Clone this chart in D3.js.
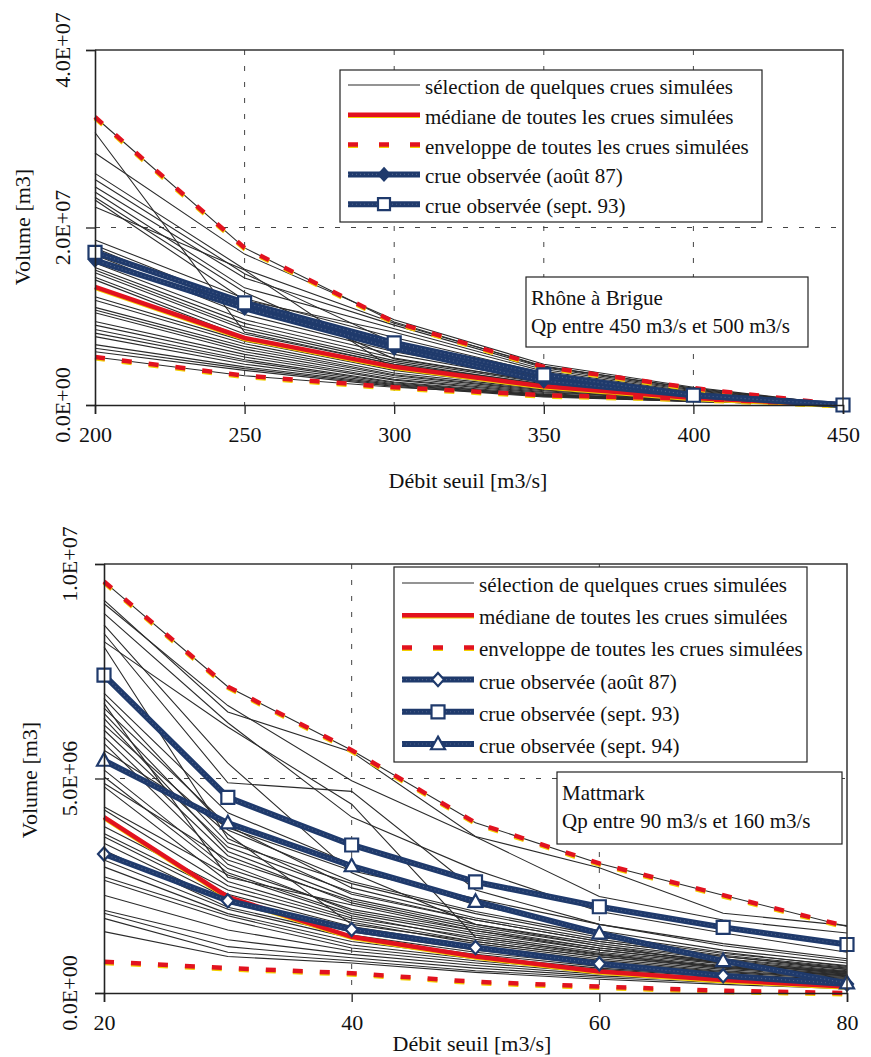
<!DOCTYPE html>
<html>
<head>
<meta charset="utf-8">
<script src="https://cdn.jsdelivr.net/npm/d3@7"></script>
<style>
  body { margin: 0; background: #fff; }
  svg text { font-family: "Liberation Serif", "Times New Roman", Times, "DejaVu Serif", serif; }
</style>
</head>
<body>
<svg id="chart"></svg>
<script>
// ---- data (volumes in millions of m3) ----
const brigueX = [200, 250, 300, 350, 400, 450];
const brigueSim = [
  [30.7, 8.2, 4.6, 2.4, 1.0, 0],
  [28.4, 17.0, 9.6, 4.6, 2.0, 0],
  [26.1, 15.3, 9.2, 4.4, 1.8, 0],
  [25.4, 14.8, 7.0, 3.2, 1.3, 0],
  [24.6, 14.3, 9.0, 4.2, 1.7, 0],
  [24.0, 13.2, 8.6, 4.0, 1.6, 0],
  [23.4, 12.7, 5.2, 2.6, 1.1, 0],
  [23.1, 11.8, 8.2, 3.8, 1.5, 0],
  [22.3, 15.2, 4.0, 2.0, 0.8, 0],
  [18.6, 12.0, 7.6, 3.6, 1.4, 0],
  [18.0, 11.3, 6.8, 3.4, 1.3, 0],
  [17.7, 10.8, 6.4, 3.1, 1.2, 0],
  [16.9, 10.2, 6.0, 2.9, 1.2, 0],
  [16.0, 9.6, 5.7, 2.7, 1.1, 0],
  [15.5, 9.2, 5.3, 2.6, 1.0, 0],
  [15.2, 8.8, 5.0, 2.5, 1.0, 0],
  [14.9, 8.5, 4.8, 2.3, 0.9, 0],
  [14.4, 8.0, 4.6, 2.2, 0.9, 0],
  [14.1, 7.6, 4.3, 2.0, 0.8, 0],
  [12.2, 7.2, 3.9, 1.9, 0.8, 0],
  [11.8, 6.9, 3.6, 1.8, 0.7, 0],
  [11.0, 6.6, 3.4, 1.7, 0.7, 0],
  [10.7, 6.3, 3.3, 1.6, 0.6, 0],
  [10.4, 6.0, 3.1, 1.5, 0.6, 0],
  [9.4, 5.7, 2.9, 1.4, 0.6, 0],
  [9.0, 5.4, 2.8, 1.3, 0.5, 0],
  [8.5, 5.1, 2.6, 1.2, 0.5, 0],
  [8.1, 4.9, 2.5, 1.1, 0.5, 0],
  [7.7, 4.6, 2.4, 1.1, 0.4, 0],
  [6.8, 4.3, 2.3, 1.0, 0.4, 0],
  [6.4, 4.1, 2.2, 1.0, 0.4, 0],
  [6.0, 3.9, 2.1, 0.9, 0.4, 0]
];
const brigueMediane = [13.3, 7.55, 4.3, 2.1, 0.8, 0];
const brigueEnvHaut = [32.45, 17.7, 9.35, 4.3, 1.9, 0];
const brigueEnvBas = [5.4, 3.3, 2.0, 1.1, 0.7, 0];
const brigueAout87 = [16.3, 10.9, 6.4, 2.7, 1.1, 0];
const brigueSept93 = [17.2, 11.5, 7.0, 3.4, 1.1, 0];
const brigueXTicks = [200, 250, 300, 350, 400, 450];
const brigueYTicks = [0, 20, 40];

const mattX = [20, 30, 40, 50, 60, 70, 80];
const mattSim = [
  [9.16, 6.55, 5.62, 3.65, 2.92, 1.86, 1.57],
  [9.08, 6.70, 4.95, 3.64, 2.25, 1.70, 1.40],
  [8.85, 6.30, 4.10, 2.87, 1.90, 1.40, 0.95],
  [8.58, 5.36, 2.80, 1.60, 1.10, 0.70, 0.45],
  [8.38, 4.90, 4.70, 2.40, 1.60, 1.10, 0.75],
  [8.19, 6.20, 4.40, 1.30, 0.90, 0.60, 0.40],
  [8.07, 3.60, 2.30, 1.70, 1.20, 0.85, 0.55],
  [6.99, 4.20, 3.00, 2.05, 1.45, 1.00, 0.70],
  [6.87, 3.80, 2.60, 1.90, 1.35, 0.95, 0.62],
  [6.75, 2.70, 2.05, 1.45, 1.00, 0.70, 0.48],
  [6.64, 3.90, 2.45, 1.75, 1.25, 0.88, 0.60],
  [6.52, 3.50, 2.55, 1.85, 1.30, 0.92, 0.64],
  [6.40, 3.30, 2.20, 1.60, 1.15, 0.80, 0.55],
  [6.25, 3.70, 1.60, 1.20, 0.85, 0.60, 0.42],
  [6.13, 3.40, 2.35, 1.70, 1.20, 0.85, 0.58],
  [5.97, 3.20, 2.10, 1.50, 1.05, 0.75, 0.50],
  [5.82, 3.00, 1.90, 1.40, 1.00, 0.70, 0.48],
  [5.66, 3.85, 2.85, 2.20, 1.60, 1.15, 0.80],
  [5.20, 2.90, 1.95, 1.45, 1.05, 0.72, 0.50],
  [5.04, 2.80, 1.85, 1.35, 0.95, 0.68, 0.46],
  [4.89, 3.10, 2.15, 1.55, 1.10, 0.78, 0.52],
  [4.81, 2.60, 1.75, 1.30, 0.92, 0.64, 0.44],
  [4.34, 2.75, 1.80, 1.25, 0.88, 0.62, 0.42],
  [4.27, 2.50, 1.70, 1.20, 0.84, 0.58, 0.40],
  [3.88, 2.40, 1.65, 1.15, 0.80, 0.55, 0.38],
  [3.72, 2.30, 1.55, 1.10, 0.76, 0.52, 0.36],
  [3.64, 2.20, 1.50, 1.05, 0.72, 0.50, 0.34],
  [3.49, 2.10, 1.42, 1.00, 0.70, 0.48, 0.32],
  [3.33, 2.00, 1.35, 0.95, 0.66, 0.45, 0.30],
  [3.10, 1.95, 1.28, 0.90, 0.62, 0.42, 0.28],
  [2.94, 1.85, 1.20, 0.85, 0.58, 0.40, 0.26],
  [2.71, 1.80, 1.12, 0.80, 0.55, 0.38, 0.24],
  [2.63, 1.70, 1.05, 0.75, 0.52, 0.35, 0.22],
  [2.28, 1.47, 0.98, 0.70, 0.48, 0.32, 0.20],
  [1.93, 1.24, 0.90, 0.64, 0.44, 0.30, 0.18],
  [1.86, 1.08, 0.82, 0.58, 0.40, 0.28, 0.16],
  [1.74, 0.95, 0.75, 0.52, 0.36, 0.24, 0.14],
  [1.43, 0.85, 0.70, 0.48, 0.32, 0.20, 0.10]
];
const mattMediane = [4.10, 2.24, 1.31, 0.85, 0.50, 0.30, 0.15];
const mattEnvHaut = [9.59, 7.14, 5.66, 3.97, 3.02, 2.28, 1.55];
const mattEnvBas = [0.73, 0.58, 0.46, 0.26, 0.15, 0.05, 0.0];
const mattAout87 = [3.24, 2.15, 1.48, 1.06, 0.68, 0.40, 0.21];
const mattSept93 = [7.41, 4.56, 3.45, 2.59, 2.01, 1.53, 1.13];
const mattSept94 = [5.42, 3.96, 2.96, 2.13, 1.39, 0.75, 0.23];
const mattXTicks = [20, 40, 60, 80];
const mattYTicks = [0, 5, 10];

const legendSim = "sélection de quelques crues simulées";
const legendMed = "médiane de toutes les crues simulées";
const legendEnv = "enveloppe de toutes les crues simulées";

const W = 871, H = 1057;
const navy = "#1f3a6c", red = "#e2121f", yellow = "#f2cf00";
const serif = "'Liberation Serif', 'Times New Roman', Times, 'DejaVu Serif', serif";

const svg = d3.select("#chart").attr("width", W).attr("height", H);
svg.append("rect").attr("width", W).attr("height", H).attr("fill", "#fff");

// 4.0E+07 style labels
function fmtE(v) {
  return v.toExponential(1).toUpperCase().replace(/E([+-])(\d+)$/, function(m, s, e) {
    return "E" + s + (e.length < 2 ? "0" + e : e);
  });
}

function markerPath(type, r) {
  if (type == "square") return "M" + (-r) + "," + (-r) + "h" + 2*r + "v" + 2*r + "h" + (-2*r) + "Z";
  if (type == "diamond") return "M0," + (-r*1.1) + "L" + r + ",0L0," + r*1.1 + "L" + (-r) + ",0Z";
  if (type == "triangle") return "M0," + (-r*1.05) + "L" + r + "," + r*0.75 + "L" + (-r) + "," + r*0.75 + "Z";
  return "";
}

function drawObsLine(g, pts) {
  g.append("path").attr("d", pts).attr("fill", "none")
    .attr("stroke", navy).attr("stroke-width", 6).attr("stroke-linejoin", "round");
  g.append("path").attr("d", pts).attr("fill", "none")
    .attr("stroke", "#6f7f9f").attr("stroke-width", 1.1).attr("stroke-dasharray", "1,3").attr("opacity", 0.6);
}

function addText(sel) {
  return sel.append("text").style("font-family", serif).attr("fill", "#111");
}

function drawPanel(cfg) {
  const x = d3.scaleLinear().domain(cfg.xDomain).range([cfg.left, cfg.right]);
  const y = d3.scaleLinear().domain(cfg.yDomain).range([cfg.bottom, cfg.top]);
  const g = svg.append("g");
  const line = d3.line().x((d, i) => x(cfg.xs[i])).y(d => y(d));

  // grid
  g.selectAll(".vgrid").data(cfg.vGrid).enter().append("line")
    .attr("x1", d => x(d)).attr("x2", d => x(d)).attr("y1", cfg.top).attr("y2", cfg.bottom)
    .attr("stroke", "#444").attr("stroke-width", 1).attr("stroke-dasharray", "5,11");
  g.selectAll(".hgrid").data(cfg.hGrid).enter().append("line")
    .attr("x1", cfg.left).attr("x2", cfg.right).attr("y1", d => y(d)).attr("y2", d => y(d))
    .attr("stroke", "#444").attr("stroke-width", 1).attr("stroke-dasharray", "5,11");

  // simulated floods
  g.append("g").selectAll("path").data(cfg.sims).enter().append("path")
    .attr("d", line).attr("fill", "none").attr("stroke", "#2b2b2b").attr("stroke-width", 1.1);
  cfg.envBlack.forEach(function(s) {
    g.append("path").attr("d", line(s)).attr("fill", "none").attr("stroke", "#2b2b2b").attr("stroke-width", 1.1);
  });

  // median (red with a yellow edge, like the print)
  g.append("path").attr("d", line(cfg.median)).attr("transform", "translate(0,1.5)")
    .attr("fill", "none").attr("stroke", yellow).attr("stroke-width", 3.5);
  g.append("path").attr("d", line(cfg.median)).attr("fill", "none")
    .attr("stroke", red).attr("stroke-width", 4.5);

  // envelopes
  [cfg.envHigh, cfg.envLow].forEach(function(s) {
    g.append("path").attr("d", line(s)).attr("transform", "translate(0,1.5)")
      .attr("fill", "none").attr("stroke", yellow).attr("stroke-width", 4).attr("stroke-dasharray", "10,17");
    g.append("path").attr("d", line(s)).attr("fill", "none")
      .attr("stroke", red).attr("stroke-width", 4.5).attr("stroke-dasharray", "10,17");
  });

  // observed floods
  cfg.obs.forEach(function(o) {
    drawObsLine(g, line(o.values));
  });
  cfg.obs.forEach(function(o) {
    g.append("g").selectAll("path").data(o.values).enter().append("path")
      .attr("transform", (d, i) => "translate(" + x(cfg.xs[i]) + "," + y(d) + ")")
      .attr("d", markerPath(o.marker, o.r))
      .attr("fill", o.filled ? navy : "#fff").attr("stroke", navy).attr("stroke-width", 2.2);
  });

  // frame + axes
  g.append("path").attr("d", "M" + cfg.left + "," + cfg.top + "H" + cfg.right + "V" + cfg.bottom)
    .attr("fill", "none").attr("stroke", "#333").attr("stroke-width", 1.5);
  const xAxis = g.append("g").attr("transform", "translate(0," + cfg.bottom + ")")
    .call(d3.axisBottom(x).tickValues(cfg.xTicks).tickSize(9).tickPadding(12).tickFormat(d3.format("d")));
  const yAxis = g.append("g").attr("transform", "translate(" + cfg.left + ",0)")
    .call(d3.axisLeft(y).tickValues(cfg.yTicks).tickSize(9).tickFormat(""));
  [xAxis, yAxis].forEach(function(a) {
    a.attr("font-family", null).attr("font-size", null);
    a.select(".domain").attr("stroke", "#222").attr("stroke-width", 1.6);
    a.selectAll(".tick line").attr("stroke", "#222").attr("stroke-width", 1.3);
  });
  xAxis.selectAll("text").style("font-family", serif).attr("font-size", 22).attr("fill", "#111");

  // rotated y tick labels
  g.selectAll(".ylab").data(cfg.yTicks).enter().append("text")
    .style("font-family", serif)
    .attr("transform", d => "translate(" + cfg.yLabX + "," + y(d) + ") rotate(-90)")
    .attr("text-anchor", "middle").attr("dominant-baseline", "central")
    .attr("font-size", 22).attr("fill", "#111").text(d => fmtE(d * 1e6));

  addText(g).attr("transform", "translate(" + cfg.yTitleX + "," + cfg.yTitleY + ") rotate(-90)")
    .attr("text-anchor", "middle").attr("dominant-baseline", "central")
    .attr("font-size", 22).text("Volume [m3]");
  addText(g).attr("x", cfg.xTitleX).attr("y", cfg.xTitleY)
    .attr("text-anchor", "middle").attr("dominant-baseline", "central")
    .attr("font-size", 22).text("Débit seuil [m3/s]");

  // legend
  const L = cfg.legend;
  const lg = g.append("g");
  lg.append("rect").attr("x", L.x).attr("y", L.y).attr("width", L.w).attr("height", L.h)
    .attr("fill", "#fff").attr("stroke", "#222").attr("stroke-width", 1.2);
  L.items.forEach(function(it, i) {
    const cy = L.y + L.first + i * L.step;
    const ly = cy - 2;
    const x1 = L.x + 8, x2 = L.x + 80;
    if (it.type == "sim") {
      lg.append("line").attr("x1", x1).attr("x2", x2).attr("y1", ly).attr("y2", ly)
        .attr("stroke", "#2b2b2b").attr("stroke-width", 1.1);
    } else if (it.type == "med") {
      lg.append("line").attr("x1", x1).attr("x2", x2).attr("y1", ly + 1.5).attr("y2", ly + 1.5)
        .attr("stroke", yellow).attr("stroke-width", 3.5);
      lg.append("line").attr("x1", x1).attr("x2", x2).attr("y1", ly).attr("y2", ly)
        .attr("stroke", red).attr("stroke-width", 4.5);
    } else if (it.type == "env") {
      lg.append("line").attr("x1", x1).attr("x2", x2).attr("y1", ly + 1.5).attr("y2", ly + 1.5)
        .attr("stroke", yellow).attr("stroke-width", 4).attr("stroke-dasharray", "10,21");
      lg.append("line").attr("x1", x1).attr("x2", x2).attr("y1", ly).attr("y2", ly)
        .attr("stroke", red).attr("stroke-width", 4.5).attr("stroke-dasharray", "10,21");
    } else {
      drawObsLine(lg, "M" + x1 + "," + ly + "H" + x2);
      lg.append("path").attr("transform", "translate(" + (x1 + x2) / 2 + "," + ly + ")")
        .attr("d", markerPath(it.marker, it.r))
        .attr("fill", it.filled ? navy : "#fff").attr("stroke", navy).attr("stroke-width", 2.2);
    }
    addText(lg).attr("x", x2 + 5).attr("y", cy).attr("dominant-baseline", "central")
      .attr("font-size", 21).text(it.label);
  });

  // site box
  const B = cfg.box;
  g.append("rect").attr("x", B.x).attr("y", B.y).attr("width", B.w).attr("height", B.h)
    .attr("fill", "#fff").attr("stroke", "#222").attr("stroke-width", 1.2);
  B.lines.forEach(function(t, i) {
    addText(g).attr("x", B.x + 5).attr("y", B.y + 21 + i * 28).attr("dominant-baseline", "central")
      .attr("font-size", 21).text(t);
  });
}

drawPanel({
  xs: brigueX, sims: brigueSim, median: brigueMediane,
  envHigh: brigueEnvHaut, envLow: brigueEnvBas, envBlack: [brigueEnvHaut, brigueEnvBas],
  obs: [
    {values: brigueAout87, marker: "diamond", r: 5.5, filled: true},
    {values: brigueSept93, marker: "square", r: 6.5, filled: false}
  ],
  xDomain: [200, 450], yDomain: [0, 40],
  left: 95, right: 843, top: 50, bottom: 405,
  xTicks: brigueXTicks, yTicks: brigueYTicks,
  vGrid: [250, 300, 350, 400], hGrid: [20],
  yLabX: 62, yTitleX: 22, yTitleY: 227, xTitleX: 468, xTitleY: 480,
  legend: {x: 340, y: 70, w: 422, h: 152, first: 17, step: 29.8, items: [
    {type: "sim", label: legendSim},
    {type: "med", label: legendMed},
    {type: "env", label: legendEnv},
    {type: "obs", marker: "diamond", r: 5.5, filled: true, label: "crue observée (août 87)"},
    {type: "obs", marker: "square", r: 6, filled: false, label: "crue observée (sept. 93)"}
  ]},
  box: {x: 526, y: 277, w: 282, h: 70, lines: ["Rhône à Brigue", "Qp entre 450 m3/s et 500 m3/s"]}
});

drawPanel({
  xs: mattX, sims: mattSim, median: mattMediane,
  envHigh: mattEnvHaut, envLow: mattEnvBas, envBlack: [mattEnvHaut],
  obs: [
    {values: mattAout87, marker: "diamond", r: 6, filled: false},
    {values: mattSept93, marker: "square", r: 6.5, filled: false},
    {values: mattSept94, marker: "triangle", r: 7, filled: false}
  ],
  xDomain: [20, 80], yDomain: [0, 10],
  left: 104, right: 847, top: 564, bottom: 993,
  xTicks: mattXTicks, yTicks: mattYTicks,
  vGrid: [40, 60], hGrid: [5],
  yLabX: 69, yTitleX: 29, yTitleY: 780, xTitleX: 472, xTitleY: 1043,
  legend: {x: 394, y: 567, w: 413, h: 195, first: 18, step: 32.2, items: [
    {type: "sim", label: legendSim},
    {type: "med", label: legendMed},
    {type: "env", label: legendEnv},
    {type: "obs", marker: "diamond", r: 6, filled: false, label: "crue observée (août 87)"},
    {type: "obs", marker: "square", r: 6.5, filled: false, label: "crue observée (sept. 93)"},
    {type: "obs", marker: "triangle", r: 7, filled: false, label: "crue observée (sept. 94)"}
  ]},
  box: {x: 557, y: 772, w: 285, h: 72, lines: ["Mattmark", "Qp entre 90 m3/s et 160 m3/s"]}
});
</script>
</body>
</html>
